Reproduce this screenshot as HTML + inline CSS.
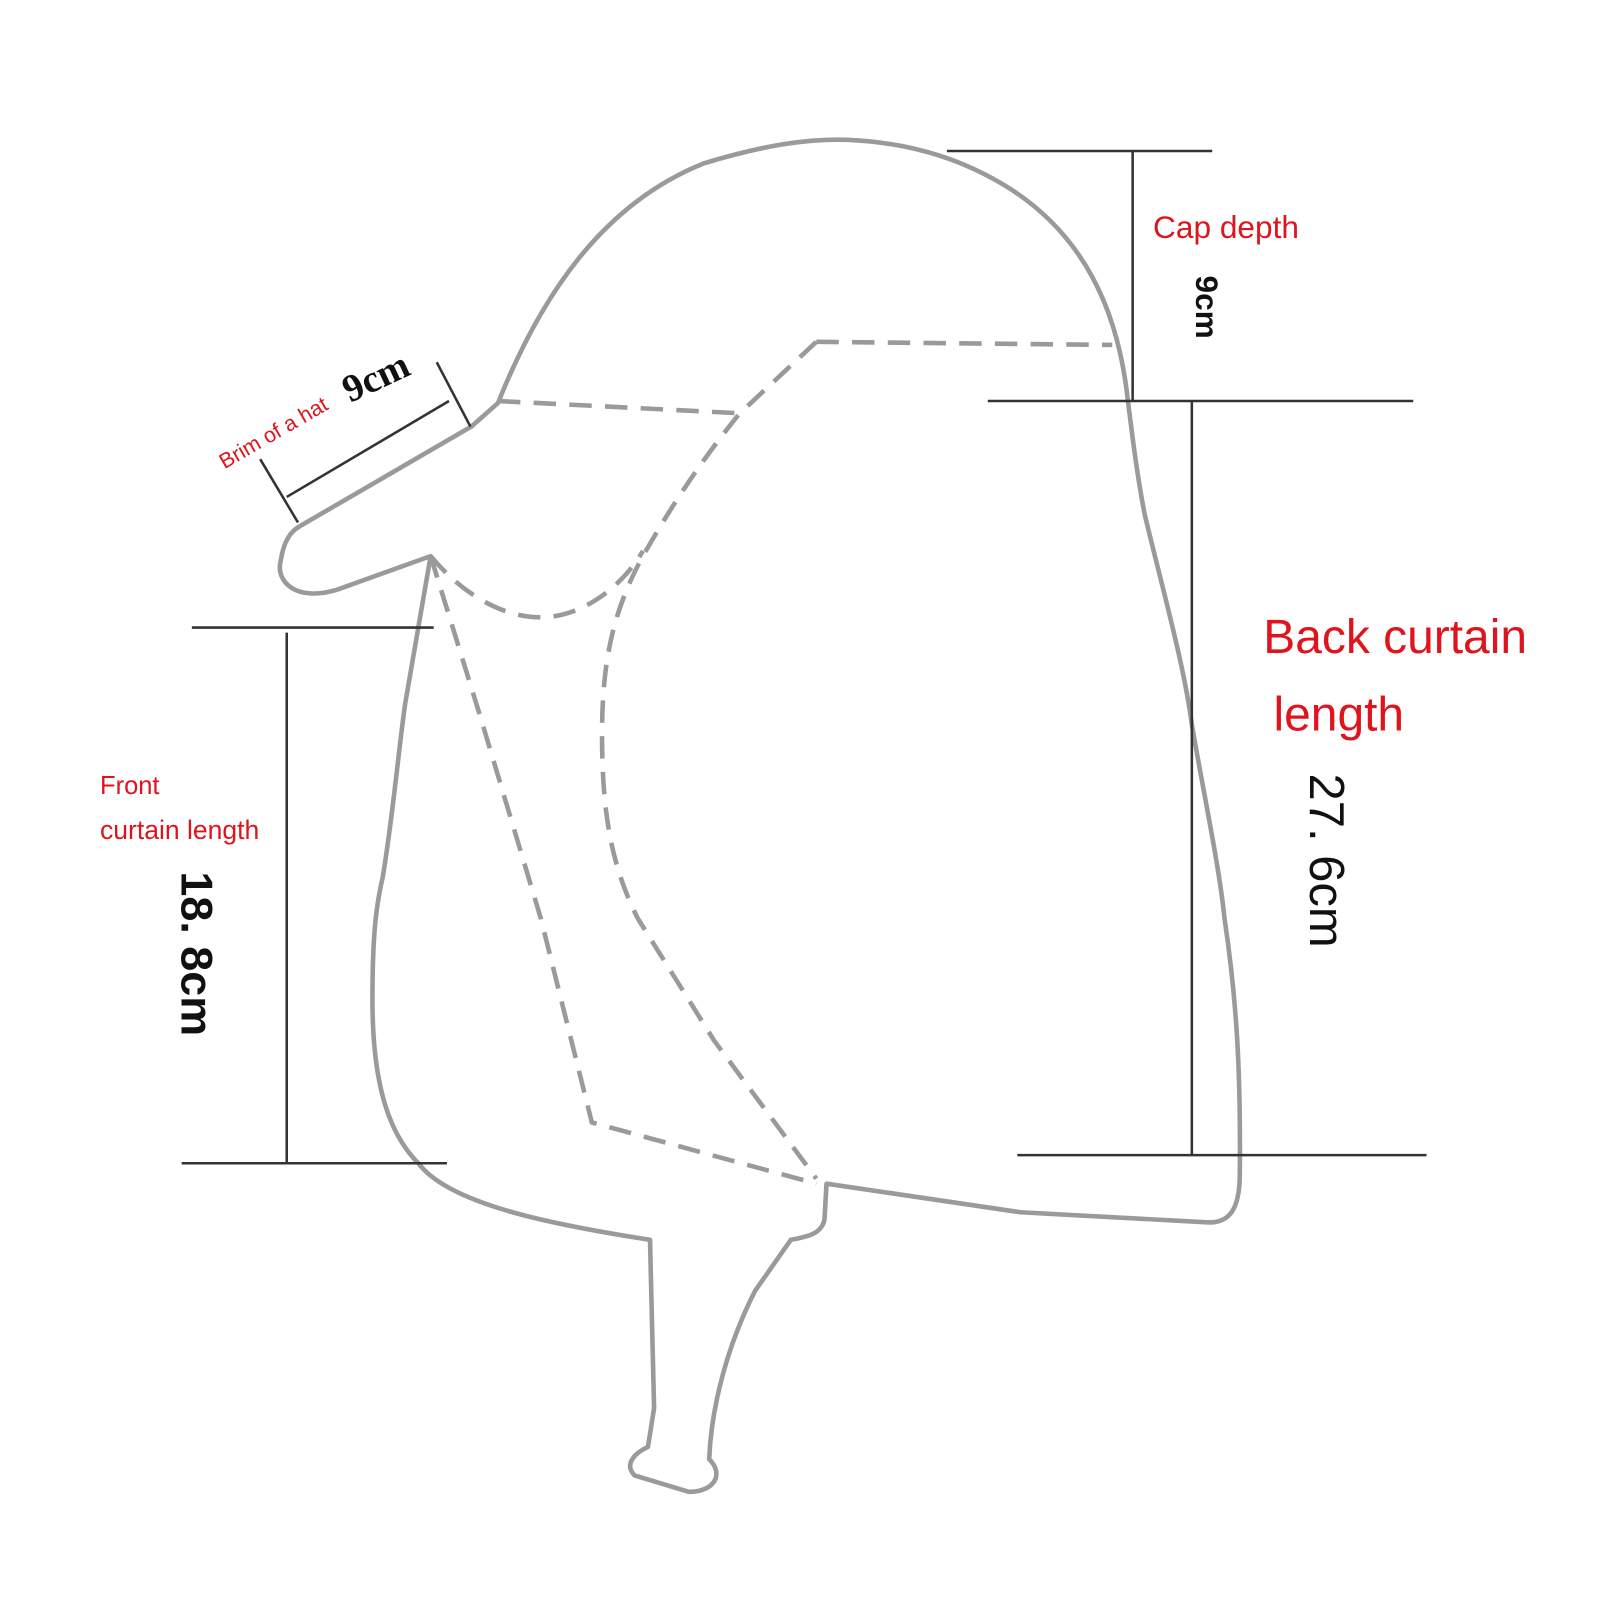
<!DOCTYPE html>
<html><head><style>html,body{margin:0;padding:0;background:#fff}svg{display:block}</style></head>
<body>
<svg width="1600" height="1600" viewBox="0 0 1568 1568" xmlns="http://www.w3.org/2000/svg">
<rect width="1568" height="1568" fill="#fff"/>
<g fill="none" stroke="#9a9a9a" stroke-width="4.5" stroke-linejoin="round" stroke-linecap="round">
<path d="M462,418 L488,395 C530,290 590,200 690,160 C750,142 790,136 830,137 C900,140 950,160 990,185 C1060,230 1095,300 1105,390 C1110,430 1115,470 1122,505 C1140,580 1160,650 1168,710 C1180,780 1195,850 1200,900 C1212,980 1216,1050 1215,1150 C1215,1185 1205,1198 1185,1198 L1000,1188 L810,1160 L808,1195 C805,1210 790,1212 775,1215 L740,1265 C712,1320 697,1380 695,1430 C710,1445 700,1462 675,1462 L622,1446 C612,1436 620,1425 635,1418 L641,1380 L637,1215 C540,1200 440,1180 410,1140 C380,1110 365,1060 365,980 C365,920 368,890 375,860 C385,800 390,740 397,690 L422,545 L330,578 C290,590 270,570 275,550 C278,530 285,520 295,515 Z"/>
</g>
<g fill="none" stroke="#9a9a9a" stroke-width="4.5" stroke-dasharray="22,13">
<path d="M488,393 L725,405"/>
<path d="M800,335 L1090,338"/>
<path d="M800,335 L725,405 C680,460 650,510 630,545 C600,600 590,650 590,720 C590,800 600,850 625,900 L700,1020 L800,1155"/>
<path d="M422,545 C460,590 500,605 530,605 C570,605 610,575 630,540"/>
<path d="M422,545 L470,700 L530,900 L580,1100 L800,1160"/>
</g>
<g stroke="#333" stroke-width="2.5">
<line x1="255" y1="450" x2="292" y2="512"/>
<line x1="428" y1="355" x2="461" y2="418"/>
<line x1="281" y1="487" x2="440" y2="393"/>
<line x1="188" y1="615" x2="425" y2="615"/>
<line x1="281" y1="620" x2="281" y2="1140"/>
<line x1="178" y1="1140" x2="438" y2="1140"/>
<line x1="928" y1="148" x2="1188" y2="148"/>
<line x1="1110" y1="148" x2="1110" y2="393"/>
<line x1="968" y1="393" x2="1385" y2="393"/>
<line x1="1168" y1="393" x2="1168" y2="1132"/>
<line x1="997" y1="1132" x2="1398" y2="1132"/>
</g>
<g font-family="Liberation Sans, sans-serif" fill="#e0141c">
<text x="1130" y="233" font-size="31">Cap depth</text>
<text x="1238" y="640" font-size="47">Back curtain</text>
<text x="1248" y="716" font-size="47">length</text>
<text x="98" y="778" font-size="25">Front</text>
<text x="98" y="822" font-size="26">curtain length</text>
<text transform="translate(220,460) rotate(-30)" font-size="21">Brim of a hat</text>
</g>
<g font-family="Liberation Serif, serif" fill="#111" font-weight="bold">
<text transform="translate(343,395) rotate(-25)" font-size="38">9cm</text>
</g>
<g font-family="Liberation Sans, sans-serif" fill="#111">
<text transform="translate(1172,270) rotate(90)" font-size="31" font-weight="bold">9cm</text>
<text transform="translate(1284,758) rotate(90)" font-size="48">27. 6cm</text>
<text transform="translate(178,854) rotate(90)" font-size="44" font-weight="bold">18. 8cm</text>
</g>
</svg>
</body></html>
